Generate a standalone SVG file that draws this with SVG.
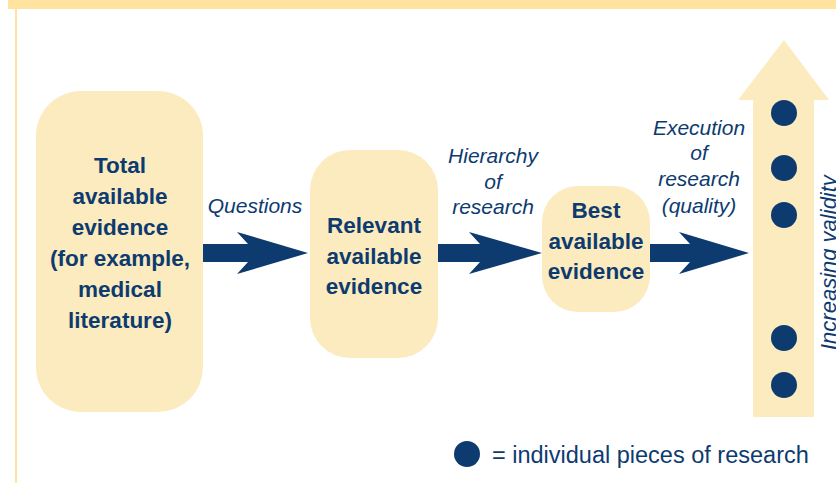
<svg xmlns="http://www.w3.org/2000/svg" width="836" height="483" viewBox="0 0 836 483">
<style>
.box{fill:#FCEBBE}
.lbl{font-family:"Liberation Sans",Arial,sans-serif;font-weight:bold;font-size:22.5px;fill:#0D3B6F;text-anchor:middle}
.it{font-family:"Liberation Sans",Arial,sans-serif;font-style:italic;font-size:21px;fill:#0D3B6F;text-anchor:middle}
.arr{fill:#0D3B6F}
.dot{fill:#0D3B6F}
</style>
<rect x="0" y="0" width="836" height="483" fill="#FFFFFF"/>
<rect x="8" y="0" width="828" height="9" fill="#FFE39E"/>
<rect x="15" y="9" width="2" height="474" fill="#FFE39E"/>
<g id="validity">
<polygon class="box" points="784,40 829,100 814,100 814,417 753,417 753,100 738,100"/>
<circle class="dot" cx="784" cy="113" r="13"/>
<circle class="dot" cx="784" cy="168" r="13"/>
<circle class="dot" cx="784" cy="215" r="13"/>
<circle class="dot" cx="784" cy="338" r="13"/>
<circle class="dot" cx="784" cy="385" r="13"/>
<text class="it" style="text-anchor:start;font-size:22px" transform="translate(836,350) rotate(-90)">Increasing validity</text>
</g>
<g id="total">
<rect class="box" x="36" y="91" width="167" height="321" rx="45" ry="45"/>
<text class="lbl" x="120" y="173">Total</text>
<text class="lbl" x="120" y="204">available</text>
<text class="lbl" x="120" y="235">evidence</text>
<text class="lbl" x="120" y="266">(for example,</text>
<text class="lbl" x="120" y="297">medical</text>
<text class="lbl" x="120" y="328">literature)</text>
</g>
<g id="relevant">
<rect class="box" x="310" y="150" width="128" height="208" rx="40" ry="40"/>
<text class="lbl" x="374" y="233">Relevant</text>
<text class="lbl" x="374" y="264">available</text>
<text class="lbl" x="374" y="294">evidence</text>
</g>
<g id="best">
<rect class="box" x="542" y="186" width="108" height="126" rx="36" ry="36"/>
<text class="lbl" x="596" y="218">Best</text>
<text class="lbl" x="596" y="249">available</text>
<text class="lbl" x="596" y="279">evidence</text>
</g>
<g id="connectors">
<polygon class="arr" points="203,244 248,244 237,232 308,253 237,274 248,262 203,262"/>
<polygon class="arr" points="438,244 480,244 469,232 542,253 469,274 480,262 438,262"/>
<polygon class="arr" points="650,244 690,244 679,232 749,253 679,274 690,262 650,262"/>
<text class="it" x="255" y="213">Questions</text>
<text class="it" x="493" y="163">Hierarchy</text>
<text class="it" x="493" y="189">of</text>
<text class="it" x="493" y="214">research</text>
<text class="it" x="699" y="135">Execution</text>
<text class="it" x="699" y="160">of</text>
<text class="it" x="699" y="186">research</text>
<text class="it" x="699" y="213">(quality)</text>
</g>
<g id="legend">
<circle class="dot" cx="467" cy="454" r="13"/>
<text x="492" y="463" style="font-family:'Liberation Sans',Arial,sans-serif;font-size:23.5px;fill:#0D3B6F">= individual pieces of research</text>
</g>
</svg>
